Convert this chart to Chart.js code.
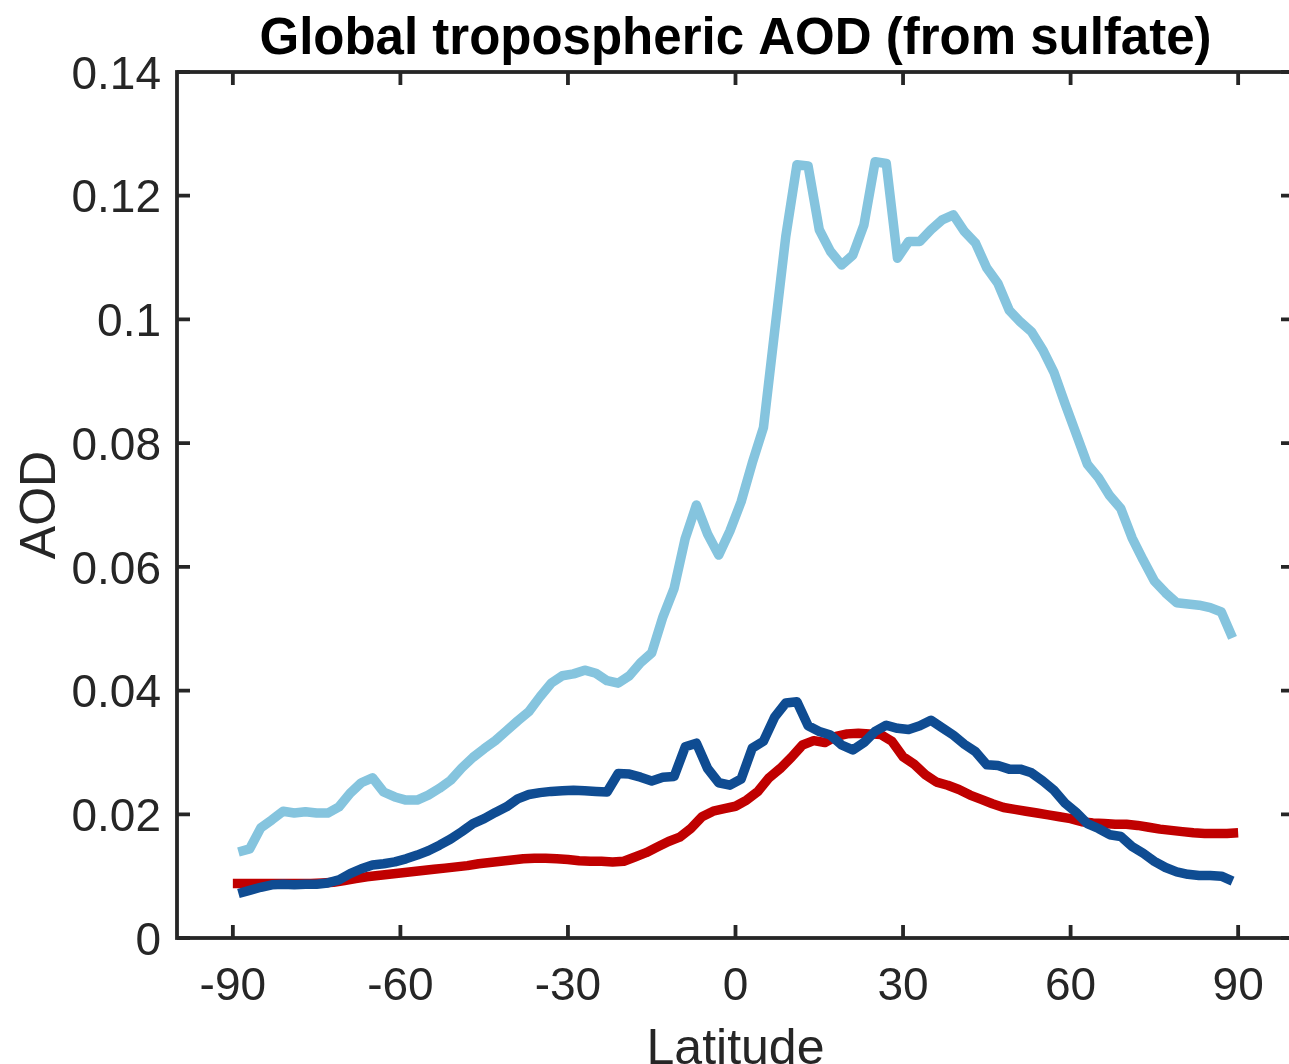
<!DOCTYPE html>
<html>
<head>
<meta charset="utf-8">
<script src="https://cdn.jsdelivr.net/npm/chart.js@4/dist/chart.umd.min.js"></script>
<style>
  html, body { margin: 0; padding: 0; background: #fff; overflow: hidden; }
  #wrap { width: 1300px; height: 1100px; }
</style>
</head>
<body>
<div id="wrap"><canvas id="aod"></canvas></div>
<script>
// latitude grid of the two blue curves (odd degrees)
const latOdd = [
  -89, -87, -85, -83, -81, -79, -77, -75, -73, -71, -69, -67, -65, -63, -61,
  -59, -57, -55, -53, -51, -49, -47, -45, -43, -41, -39, -37, -35, -33, -31,
  -29, -27, -25, -23, -21, -19, -17, -15, -13, -11, -9, -7, -5, -3, -1,
  1, 3, 5, 7, 9, 11, 13, 15, 17, 19, 21, 23, 25, 27, 29,
  31, 33, 35, 37, 39, 41, 43, 45, 47, 49, 51, 53, 55, 57, 59,
  61, 63, 65, 67, 69, 71, 73, 75, 77, 79, 81, 83, 85, 87, 89
];

// latitude grid of the red curve (even degrees)
const latEven = [
  -90, -88, -86, -84, -82, -80, -78, -76, -74, -72, -70, -68, -66, -64, -62, -60,
  -58, -56, -54, -52, -50, -48, -46, -44, -42, -40, -38, -36, -34, -32, -30,
  -28, -26, -24, -22, -20, -18, -16, -14, -12, -10, -8, -6, -4, -2, 0,
  2, 4, 6, 8, 10, 12, 14, 16, 18, 20, 22, 24, 26, 28, 30,
  32, 34, 36, 38, 40, 42, 44, 46, 48, 50, 52, 54, 56, 58, 60,
  62, 64, 66, 68, 70, 72, 74, 76, 78, 80, 82, 84, 86, 88, 90
];

const aodLight = [
  0.0139, 0.0144, 0.0178, 0.0191, 0.0205, 0.0202, 0.0204, 0.0202, 0.0202, 0.0212,
  0.0234, 0.0251, 0.0259, 0.0236, 0.0228, 0.0223, 0.0223, 0.0231, 0.0242, 0.0255,
  0.0275, 0.0292, 0.0306, 0.0319, 0.0335, 0.0351, 0.0366, 0.0390, 0.0412, 0.0424,
  0.0427, 0.0433, 0.0428, 0.0416, 0.0412, 0.0424, 0.0445, 0.0461, 0.0519, 0.0565,
  0.0646, 0.0700, 0.0653, 0.0619, 0.0658, 0.0705, 0.0768, 0.0825, 0.0980, 0.1134,
  0.1250, 0.1248, 0.1145, 0.1110, 0.1088, 0.1104, 0.1153, 0.1255, 0.1252, 0.1099,
  0.1126, 0.1126, 0.1145, 0.1161, 0.1169, 0.1142, 0.1123, 0.1083, 0.1058, 0.1015,
  0.0996, 0.0980, 0.0951, 0.0915, 0.0864, 0.0815, 0.0766, 0.0744, 0.0715, 0.0694,
  0.0647, 0.0611, 0.0577, 0.0558, 0.0542, 0.0540, 0.0538, 0.0534, 0.0527, 0.0485
];

const aodDark = [
  0.0072, 0.0077, 0.0082, 0.0086, 0.0087, 0.0086, 0.0087, 0.0087, 0.0089, 0.0094,
  0.0104, 0.0112, 0.0118, 0.0120, 0.0123, 0.0128, 0.0134, 0.0141, 0.0150, 0.0160,
  0.0172, 0.0185, 0.0193, 0.0203, 0.0212, 0.0225, 0.0232, 0.0235, 0.0237, 0.0238,
  0.0239, 0.0238, 0.0237, 0.0236, 0.0266, 0.0265, 0.0260, 0.0254, 0.0260, 0.0261,
  0.0309, 0.0315, 0.0274, 0.0251, 0.0247, 0.0257, 0.0307, 0.0318, 0.0357, 0.0380,
  0.0382, 0.0343, 0.0334, 0.0328, 0.0312, 0.0304, 0.0316, 0.0334, 0.0344, 0.0339,
  0.0337, 0.0343, 0.0352, 0.0340, 0.0328, 0.0313, 0.0301, 0.0280, 0.0279, 0.0273,
  0.0273, 0.0267, 0.0254, 0.0239, 0.0218, 0.0203, 0.0185, 0.0177, 0.0167, 0.0164,
  0.0148, 0.0137, 0.0124, 0.0114, 0.0107, 0.0103, 0.0101, 0.0101, 0.0100, 0.0092
];

const aodRed = [
  0.0088, 0.0088, 0.0088, 0.0088, 0.0088, 0.0088, 0.0088, 0.0088, 0.0089, 0.0090,
  0.0093, 0.0096, 0.0099, 0.0101, 0.0103, 0.0105, 0.0107, 0.0109, 0.0111, 0.0113,
  0.0115, 0.0117, 0.0120, 0.0122, 0.0124, 0.0126, 0.0128, 0.0129, 0.0129, 0.0128,
  0.0127, 0.0125, 0.0124, 0.0124, 0.0123, 0.0124, 0.0131, 0.0138, 0.0147, 0.0156,
  0.0163, 0.0177, 0.0196, 0.0205, 0.0209, 0.0213, 0.0223, 0.0237, 0.0259, 0.0274,
  0.0292, 0.0312, 0.0319, 0.0316, 0.0326, 0.0330, 0.0331, 0.0330, 0.0329, 0.0318,
  0.0293, 0.0281, 0.0264, 0.0252, 0.0247, 0.0240, 0.0231, 0.0224, 0.0217, 0.0211,
  0.0208, 0.0205, 0.0202, 0.0199, 0.0196, 0.0193, 0.0188, 0.0186, 0.0185, 0.0184,
  0.0184, 0.0182, 0.0179, 0.0176, 0.0174, 0.0172, 0.0170, 0.0169, 0.0169, 0.0169,
  0.0170
];

const xTicks = [-90, -60, -30, 0, 30, 60, 90];
const yTicks = [0, 0.02, 0.04, 0.06, 0.08, 0.1, 0.12, 0.14];

const titleText = "Global tropospheric AOD (from sulfate)";
const xTitle = "Latitude";
const yTitle = "AOD";

const axisColor = "#262626";
const fontFamily = "'Liberation Sans', Arial, Helvetica, sans-serif";

function toPoints(xs, ys) {
  return xs.map((x, i) => ({ x: x, y: ys[i] }));
}

// MATLAB-like box with inward ticks, plus title and axis labels
const axesBox = {
  id: "axesBox",
  beforeDatasetsDraw(chart) {
    const { ctx, chartArea: a, scales } = chart;
    const tl = 13;
    ctx.save();
    ctx.strokeStyle = axisColor;
    ctx.lineWidth = 3.8;
    ctx.strokeRect(a.left, a.top, a.right - a.left, a.bottom - a.top);
    ctx.beginPath();
    xTicks.forEach((v) => {
      const px = scales.x.getPixelForValue(v);
      ctx.moveTo(px, a.bottom); ctx.lineTo(px, a.bottom - tl);
      ctx.moveTo(px, a.top); ctx.lineTo(px, a.top + tl);
    });
    yTicks.forEach((v) => {
      const py = scales.y.getPixelForValue(v);
      ctx.moveTo(a.left, py); ctx.lineTo(a.left + tl, py);
      ctx.moveTo(a.right, py); ctx.lineTo(a.right - tl, py);
    });
    ctx.stroke();
    ctx.restore();
  },
  afterDraw(chart) {
    const { ctx, chartArea: a } = chart;
    const cx = (a.left + a.right) / 2;
    ctx.save();
    ctx.textAlign = "center";
    ctx.textBaseline = "alphabetic";
    ctx.fillStyle = "#000";
    ctx.font = "bold 51px " + fontFamily;
    ctx.fillText(titleText, cx, 54);

    ctx.fillStyle = axisColor;
    ctx.font = "50px " + fontFamily;
    ctx.fillText(xTitle, cx, 1064);

    ctx.translate(55, (a.top + a.bottom) / 2);
    ctx.rotate(-Math.PI / 2);
    ctx.fillText(yTitle, 0, 0);
    ctx.restore();
  }
};

new Chart(document.getElementById("aod"), {
  type: "line",
  data: {
    datasets: [
      {
        label: "dark",
        data: toPoints(latOdd, aodDark),
        borderColor: "#0f4c92",
        order: 0
      },
      {
        label: "red",
        data: toPoints(latEven, aodRed),
        borderColor: "#c00000",
        order: 1
      },
      {
        label: "light",
        data: toPoints(latOdd, aodLight),
        borderColor: "#85c4de",
        order: 2
      }
    ]
  },
  options: {
    responsive: true,
    maintainAspectRatio: false,
    animation: false,
    events: [],
    datasets: {
      line: {
        borderWidth: 9.5,
        pointRadius: 0,
        tension: 0,
        fill: false,
        borderJoinStyle: "round",
        borderCapStyle: "butt"
      }
    },
    layout: { padding: { top: 72, left: 0, right: 6, bottom: 0 } },
    plugins: {
      legend: { display: false },
      tooltip: { enabled: false },
      title: { display: false }
    },
    scales: {
      x: {
        type: "linear",
        min: -100,
        max: 100,
        afterFit: (s) => { s.height = 162; },
        afterBuildTicks: (s) => { s.ticks = xTicks.map((v) => ({ value: v })); },
        grid: { display: false, drawTicks: false },
        border: { display: false },
        ticks: {
          padding: 22,
          color: axisColor,
          font: { family: fontFamily, size: 46 },
          maxRotation: 0,
          callback: (v) => String(v)
        }
      },
      y: {
        type: "linear",
        min: 0,
        max: 0.14,
        afterFit: (s) => { s.width = 177; },
        afterBuildTicks: (s) => { s.ticks = yTicks.map((v) => ({ value: v })); },
        grid: { display: false, drawTicks: false },
        border: { display: false },
        ticks: {
          padding: 16,
          labelOffset: 4,
          color: axisColor,
          font: { family: fontFamily, size: 46 },
          callback: (v) => (v === 0 ? "0" : String(+v.toFixed(2)))
        }
      }
    }
  },
  plugins: [axesBox]
});
</script>
</body>
</html>
